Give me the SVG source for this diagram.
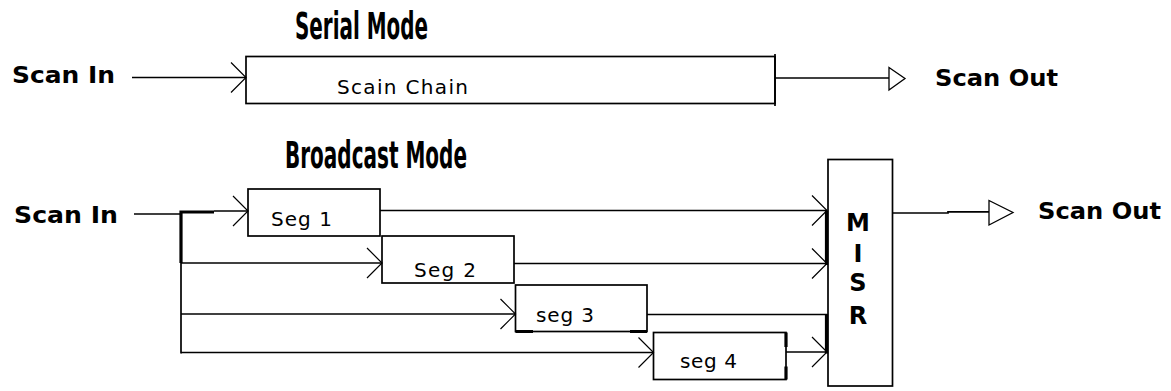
<svg xmlns="http://www.w3.org/2000/svg" width="1171" height="391" viewBox="0 0 1171 391">
  <style>
    .ln { stroke: #000; stroke-width: 1.7; fill: none; }
    .thick { stroke: #000; stroke-width: 3.2; fill: none; }
    .box { stroke: #000; stroke-width: 1.7; fill: #fff; }
    .arr { marker-end: url(#barb); }
    .tri { stroke: #000; stroke-width: 1.3; fill: #fff; }
    .title { font-family: "DejaVu Sans Condensed", "DejaVu Sans", sans-serif; font-weight: bold; font-size: 37px; fill: #000; }
    .io { font-family: "DejaVu Sans", "Liberation Sans", sans-serif; font-weight: bold; font-size: 23px; fill: #000; }
    .lbl { font-family: "DejaVu Sans", "Liberation Sans", sans-serif; font-size: 20px; fill: #000; }
    .misr { font-family: "DejaVu Sans", "Liberation Sans", sans-serif; font-weight: bold; font-size: 24px; fill: #000; text-anchor: middle; }
  </style>
  <defs>
    <!-- open V arrowhead used on every input -->
    <marker id="barb" markerUnits="userSpaceOnUse" markerWidth="24" markerHeight="36" refX="20" refY="18" orient="auto" overflow="visible">
      <path d="M5,3 L20,18 L5,33" fill="none" stroke="#000" stroke-width="1.2"/>
    </marker>
  </defs>

  <rect width="1171" height="391" fill="#fff"/>

  <!-- titles -->
  <text class="title" x="295" y="39" textLength="133" lengthAdjust="spacingAndGlyphs">Serial Mode</text>
  <text class="title" x="285" y="168" textLength="182" lengthAdjust="spacingAndGlyphs">Broadcast Mode</text>

  <!-- serial mode terminals -->
  <g id="serial-in">
    <text class="io" x="12" y="83" textLength="103" lengthAdjust="spacingAndGlyphs">Scan In</text>
  </g>
  <g id="serial-out">
    <text class="io" x="935" y="86" textLength="123" lengthAdjust="spacingAndGlyphs">Scan Out</text>
  </g>

  <g id="scan-chain">
    <rect class="box" x="246" y="56.5" width="529" height="47"/>
    <line class="ln" x1="775" y1="54" x2="775" y2="106"/>
    <text class="lbl" x="337" y="94" textLength="131" lengthAdjust="spacing">Scain Chain</text>
  </g>

  <!-- broadcast mode terminals -->
  <g id="bcast-in">
    <text class="io" x="14" y="223" textLength="104" lengthAdjust="spacingAndGlyphs">Scan In</text>
  </g>
  <g id="bcast-out">
    <text class="io" x="1038" y="219" textLength="123" lengthAdjust="spacingAndGlyphs">Scan Out</text>
  </g>

  <g id="seg1">
    <rect class="box" x="248" y="189" width="132" height="47"/>
    <text class="lbl" x="271" y="226" textLength="61" lengthAdjust="spacing">Seg 1</text>
  </g>
  <g id="seg2">
    <rect class="box" x="382" y="236" width="132" height="47"/>
    <text class="lbl" x="414" y="277" textLength="62" lengthAdjust="spacing">Seg 2</text>
  </g>
  <g id="seg3">
    <rect class="box" x="515.5" y="285" width="131.5" height="46.5"/>
    <path class="thick" d="M515.5,331.5 H533 M630,331.5 H647"/>
    <text class="lbl" x="536" y="322" textLength="58" lengthAdjust="spacing">seg 3</text>
  </g>
  <g id="seg4">
    <rect class="box" x="653.5" y="332.5" width="132.5" height="47"/>
    <path class="thick" d="M786,332.5 V347 M786,366.5 V379.5"/>
    <text class="lbl" x="680" y="368" textLength="57" lengthAdjust="spacing">seg 4</text>
  </g>
  <g id="misr">
    <rect class="box" x="828" y="159.5" width="64.5" height="226.5"/>
    <text class="misr" x="858" y="231">M</text>
    <text class="misr" x="858" y="262">I</text>
    <text class="misr" x="858" y="291">S</text>
    <text class="misr" x="858" y="324">R</text>
  </g>

  <g id="connectors">
    <!-- serial mode -->
    <path class="ln arr" d="M132,77.5 H246"/>
    <path class="ln" d="M775,78 H896"/>
    <polygon class="tri" points="889,67.5 905,78.5 889,90"/>

    <!-- broadcast fan-out bus -->
    <path class="ln" d="M134,214 H181"/>
    <path class="ln" d="M181,211 V353.5"/>
    <path class="thick" d="M214,212 H181 V263"/>
    <path class="ln arr" d="M214,211 H248"/>
    <path class="ln arr" d="M181,263 H382"/>
    <path class="ln arr" d="M181,314 H515.5"/>
    <path class="ln arr" d="M181,352.5 H653.5"/>

    <!-- segment outputs into MISR -->
    <path class="ln arr" d="M380,210.5 H827"/>
    <path class="ln arr" d="M514,263.5 H827"/>
    <path class="ln" d="M647,314.5 H827"/>
    <path class="ln arr" d="M786,352 H827"/>
    <path class="thick" d="M826.5,211 V265 M826.5,314 V353.5"/>

    <!-- MISR output -->
    <path class="ln" d="M893,213 H948 V211.8 H996"/>
    <polygon class="tri" points="989,200.5 1013,212.5 989,225"/>
  </g>
</svg>
